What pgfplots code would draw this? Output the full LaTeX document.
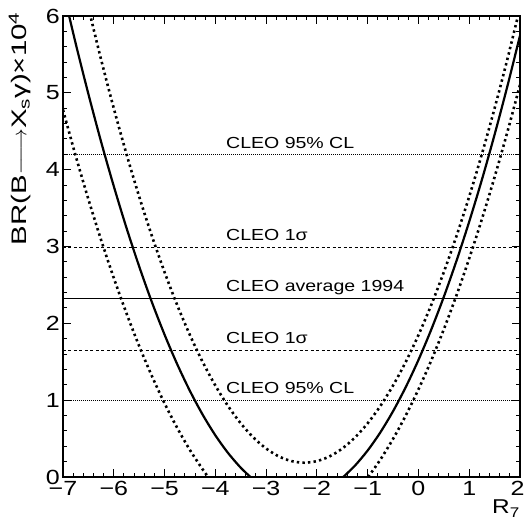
\documentclass[border=0pt]{standalone}
\usepackage{fontspec}
\setmainfont{Liberation Sans}
\newfontfamily\wide{Liberation Sans}[FakeStretch=1.22]
\newfontfamily\wider{Liberation Sans}[FakeStretch=1.4]
\usepackage{pgfplots}
\pgfplotsset{compat=1.18}
\begin{document}
\begin{tikzpicture}
\path[use as bounding box] (-63pt,-48pt) rectangle (460pt,477pt);
\begin{axis}[
  scale only axis, width=457pt, height=461pt,
  xmin=-7, xmax=2, ymin=0, ymax=6,
  clip=true,
  axis line style={line width=1.6pt},
  xtick={-7,-6,-5,-4,-3,-2,-1,0,1,2},
  xticklabels={−7,−6,−5,−4,−3,−2,−1,0,1,2\kern5pt},
  ytick={0,1,2,3,4,5,6},
  yticklabels={0,1,2,3,4,5,6},
  minor x tick num=4, minor y tick num=4,
  tick align=inside, tick pos=both,
  major tick length=8pt, minor tick length=4pt,
  every tick/.style={line width=1pt, black},
  tick label style={font=\wide\fontsize{20.5}{24}\selectfont},
  xticklabel style={yshift=-2pt, inner sep=2pt},
  yticklabel style={xshift=0pt, inner sep=3pt},
  ylabel={BR(B$\relbar\joinrel\longrightarrow$X\textsubscript{s}γ)×10\textsuperscript{4}},
  ylabel style={font=\wider\fontsize{21}{24}\selectfont, at={(axis description cs:0,1)}, anchor=south east, inner sep=0pt, yshift=32pt, xshift=4pt},
  xlabel={R\textsubscript{7}},
  xlabel style={font=\wide\fontsize{20}{24}\selectfont, at={(axis description cs:1,0)}, anchor=north east, inner sep=0pt, yshift=-23pt, xshift=0pt},
]
% horizontal CLEO lines
\addplot[line width=0.8pt, dash pattern=on 1pt off 1pt] coordinates {(-7,4.2) (2,4.2)};
\addplot[line width=0.8pt, dash pattern=on 1pt off 1pt] coordinates {(-7,1.0) (2,1.0)};
\addplot[line width=0.9pt, dash pattern=on 3pt off 2.5pt] coordinates {(-7,2.99) (2,2.99)};
\addplot[line width=0.9pt, dash pattern=on 3pt off 2.5pt] coordinates {(-7,1.65) (2,1.65)};
\addplot[line width=1.2pt] coordinates {(-7,2.32) (2,2.32)};
% solid curve
\addplot[line width=2.2pt, smooth] coordinates {
 (-7,6.34) (-6.75,5.642) (-6.5,4.985) (-6.25,4.364) (-6,3.785) (-5.75,3.243) (-5.5,2.741)
 (-5.25,2.277) (-5,1.853) (-4.75,1.467) (-4.5,1.120) (-4.25,0.812) (-4,0.543)
 (-3.75,0.313) (-3.5,0.121) (-3.307,0)};
\addplot[line width=2.2pt, smooth] coordinates {
 (-1.481,0) (-1.25,0.148) (-1,0.345) (-0.75,0.581) (-0.5,0.856) (-0.25,1.170) (0,1.523)
 (0.25,1.915) (0.5,2.345) (0.75,2.815) (1,3.324) (1.25,3.870) (1.5,4.457) (1.75,5.082) (2,5.745)};
% outer dotted curve
\addplot[line width=2.6pt, dash pattern=on 2.4pt off 3.2pt, smooth] coordinates {
 (-7,4.779) (-6.75,4.179) (-6.5,3.615) (-6.25,3.086) (-6,2.591) (-5.75,2.131) (-5.5,1.705)
 (-5.25,1.315) (-5,0.959) (-4.75,0.638) (-4.5,0.351) (-4.25,0.100) (-4.14,0)};
\addplot[line width=2.6pt, dash pattern=on 2.4pt off 3.2pt, smooth] coordinates {
 (-0.99,0) (-0.75,0.226) (-0.5,0.496) (-0.25,0.800) (0,1.140) (0.25,1.513) (0.5,1.922)
 (0.75,2.366) (1,2.844) (1.25,3.357) (1.5,3.904) (1.75,4.487) (2,5.104)};
% inner dotted curve
\addplot[line width=2.6pt, dash pattern=on 2.4pt off 3.2pt, smooth] coordinates {
 (-6.5,6.11) (-6.25,5.434) (-6,4.799) (-5.75,4.204) (-5.5,3.650) (-5.25,3.138) (-5,2.667)
 (-4.75,2.236) (-4.5,1.847) (-4.25,1.498) (-4,1.191) (-3.75,0.924) (-3.5,0.699) (-3.25,0.514)
 (-3,0.371) (-2.75,0.268) (-2.5,0.207) (-2.25,0.186) (-2,0.207) (-1.75,0.268) (-1.5,0.371)
 (-1.25,0.514) (-1,0.699) (-0.75,0.924) (-0.5,1.191) (-0.25,1.498) (0,1.847) (0.25,2.236)
 (0.5,2.667) (0.75,3.138) (1,3.650) (1.25,4.204) (1.5,4.799) (1.75,5.434) (2,6.11)};
% labels
\node[anchor=base west, font=\wide\fontsize{16}{20}\selectfont, inner sep=0pt] at (axis cs:-3.79,4.28) {CLEO 95\% CL};
\node[anchor=base west, font=\wide\fontsize{16}{20}\selectfont, inner sep=0pt] at (axis cs:-3.79,3.08) {CLEO 1σ};
\node[anchor=base west, font=\wide\fontsize{16}{20}\selectfont, inner sep=0pt] at (axis cs:-3.79,2.41) {CLEO average 1994};
\node[anchor=base west, font=\wide\fontsize{16}{20}\selectfont, inner sep=0pt] at (axis cs:-3.79,1.74) {CLEO 1σ};
\node[anchor=base west, font=\wide\fontsize{16}{20}\selectfont, inner sep=0pt] at (axis cs:-3.79,1.09) {CLEO 95\% CL};
\end{axis}
\end{tikzpicture}
\end{document}
